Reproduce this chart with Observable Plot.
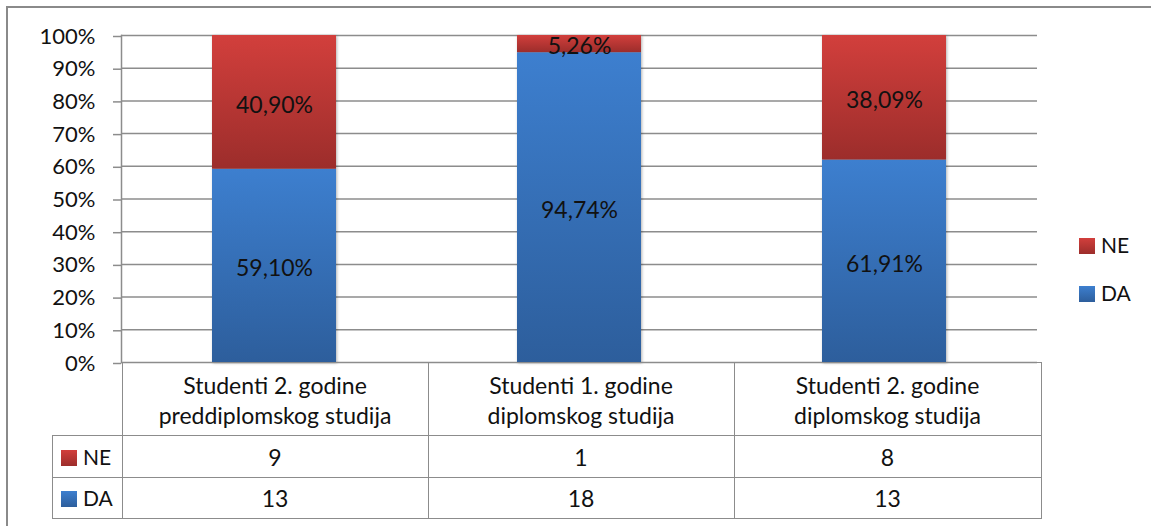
<!DOCTYPE html>
<html>
<head>
<meta charset="utf-8">
<script src="https://cdn.jsdelivr.net/npm/d3@7"></script>
<script src="https://cdn.jsdelivr.net/npm/@observablehq/plot@0.6"></script>
<style>
  html, body { margin: 0; padding: 0; background: #fff; }
  body { width: 1151px; height: 526px; overflow: hidden; position: relative; font-family: Lato, "Open Sans", sans-serif; }
  #frame { position: absolute; left: 6px; top: 6px; width: 1300px; height: 700px; border: 2px solid #8a8a8a; box-sizing: border-box; }
  #chart { position: absolute; left: 0; top: 0; }
  #table { position: absolute; left: 52px; top: 362px; border-collapse: collapse; font-size: 23px; color: #111; }
  #table td { border: 1.5px solid #8c8c8c; text-align: center; padding: 0; line-height: 26px; }
  #table td.head { line-height: 30px; padding-top: 2px; }
  #table td.blank { border-top: none; border-left: none; }
  #table td.lab { text-align: left; padding-left: 8px; font-size: 21px; }
  .sw { display: inline-block; width: 16px; height: 16px; vertical-align: -1px; margin-right: 6px; }
  #legend { position: absolute; left: 1079px; top: 232px; font-size: 21px; color: #111; }
  #legend div { height: 48px; line-height: 26px; }
</style>
</head>
<body>
<div id="frame"></div>
<div id="chart"></div>
<table id="table"></table>
<div id="legend"></div>
<script>
// ---- data ----
const categories = [
  "Studenti 2. godine\npreddiplomskog studija",
  "Studenti 1. godine\ndiplomskog studija",
  "Studenti 2. godine\ndiplomskog studija"
];
const series = ["DA", "NE"];
const daPct = [59.10, 94.74, 61.91];
const nePct = [40.90, 5.26, 38.09];
const daLabels = ["59,10%", "94,74%", "61,91%"];
const neLabels = ["40,90%", "5,26%", "38,09%"];
const daCount = [13, 18, 13];
const neCount = [9, 1, 8];
const yTicks = [0, 10, 20, 30, 40, 50, 60, 70, 80, 90, 100];

// ---- build table for Plot ----
const rows = [];
categories.forEach((c, i) => rows.push({cat: c, series: "DA", value: daPct[i], label: daLabels[i]}));
categories.forEach((c, i) => rows.push({cat: c, series: "NE", value: nePct[i], label: neLabels[i]}));

const grads = {DA: "url(#gDA)", NE: "url(#gNE)"};
const swatch = {DA: "linear-gradient(#3d7fcf, #2d5e9c)", NE: "linear-gradient(#d23f3c, #9c2d2b)"};

const plot = Plot.plot({
  width: 1151,
  height: 526,
  marginLeft: 121,
  marginRight: 114,
  marginTop: 35,
  marginBottom: 164,
  style: {fontFamily: "Lato, 'Open Sans', sans-serif", fontSize: "22px", color: "#111", background: "transparent"},
  x: {domain: categories, paddingInner: 0.594, paddingOuter: 0.297, axis: null},
  y: {domain: [0, 100], ticks: yTicks, tickFormat: d => d + "%", label: null, tickSize: 8, tickPadding: 18},
  color: {domain: series, range: series.map(s => grads[s])},
  marks: [
    Plot.gridY(yTicks, {stroke: "#8c8c8c", strokeOpacity: 1, strokeWidth: 1.5}),
    Plot.axisY({ticks: yTicks, tickFormat: d => d + "%", tickSize: 8, tickPadding: 18, stroke: "#8c8c8c", strokeWidth: 1.5, label: null, fontSize: 22, dy: 1}),
    Plot.frame({anchor: "left", stroke: "#8c8c8c", strokeWidth: 1.5}),
    Plot.barY(rows, Plot.stackY({x: "cat", y: "value", fill: "series", imageFilter: "drop-shadow(1.5px 1.5px 1.5px rgba(0,0,0,0.3))"})),
    Plot.text(rows, Plot.stackY({x: "cat", y: "value", text: "label", fill: "#111", fontSize: 23, dy: 3}))
  ]
});

// gradients
const svg = d3.select(plot);
const defs = svg.insert("defs", ":first-child");
[["gDA", "#3d7fcf", "#2d5e9c"], ["gNE", "#d23f3c", "#9c2d2b"]].forEach(([id, c1, c2]) => {
  const g = defs.append("linearGradient").attr("id", id).attr("x1", 0).attr("y1", 0).attr("x2", 0).attr("y2", 1);
  g.append("stop").attr("offset", "0%").attr("stop-color", c1);
  g.append("stop").attr("offset", "100%").attr("stop-color", c2);
});
document.getElementById("chart").appendChild(plot);

// data table below chart
const colW = [69, 305, 305, 306];
const table = document.getElementById("table");
const head = table.insertRow();
const blank = head.insertCell(); blank.className = "blank"; blank.style.width = colW[0] + "px";
categories.forEach((c, i) => {
  const td = head.insertCell();
  td.className = "head";
  td.style.width = colW[i + 1] + "px";
  td.style.height = "70px";
  td.innerHTML = c.split("\n").join("<br>");
});
[["NE", neCount], ["DA", daCount]].forEach(([s, vals], r) => {
  const tr = table.insertRow();
  const lab = tr.insertCell(); lab.className = "lab";
  lab.innerHTML = `<span class="sw" style="background:${swatch[s]}"></span>${s}`;
  lab.style.height = (r === 0 ? 41 : 40) + "px";
  vals.forEach(v => { const td = tr.insertCell(); td.textContent = v; });
});

// legend
const legend = document.getElementById("legend");
["NE", "DA"].forEach(s => {
  const d = document.createElement("div");
  d.innerHTML = `<span class="sw" style="background:${swatch[s]}"></span>${s}`;
  legend.appendChild(d);
});
</script>
</body>
</html>
